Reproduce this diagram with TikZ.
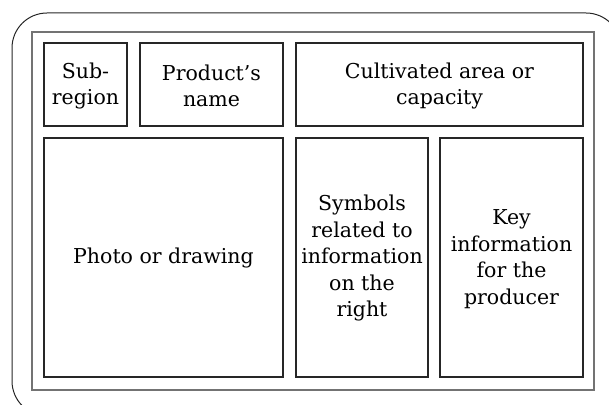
\documentclass[tikz,border=0pt]{standalone}
\usepackage{fontspec}
\setmainfont{DejaVu Serif}
\begin{document}
\begin{tikzpicture}[x=1pt,y=-1pt,
  cell/.style={draw=black!85, line width=1.2pt},
  lbl/.style={align=center, inner sep=0pt, font=\fontsize{20.5}{26.5}\selectfont}]
\useasboundingbox (0,0) rectangle (609,404);
\clip (0,0) rectangle (609,404);
\draw[black!85, line width=1pt, rounded corners=35pt] (12,13) rectangle (621,416);
\draw[black!55, line width=1.5pt] (32,32) rectangle (594,390);
\draw[cell] (44,43) rectangle (127,126);
\draw[cell] (140,43) rectangle (283,126);
\draw[cell] (296,43) rectangle (583,126);
\draw[cell] (44,138) rectangle (283,377);
\draw[cell] (296,138) rectangle (428,377);
\draw[cell] (440,138) rectangle (583,377);
\node[lbl] (sub) at (85.5,86) {Sub-\\region};
\node[lbl] (prod) at (211.5,86) {Product's\\name};
\node[lbl] (cult) at (439.5,86) {Cultivated area or\\capacity};
\node[lbl] (photo) at (163.5,257.5) {Photo or drawing};
\node[lbl] (sym) at (362,258) {Symbols\\related to\\information\\on the\\right};
\node[lbl] (key) at (511.5,259) {Key\\information\\for the\\producer};
\end{tikzpicture}
\end{document}
